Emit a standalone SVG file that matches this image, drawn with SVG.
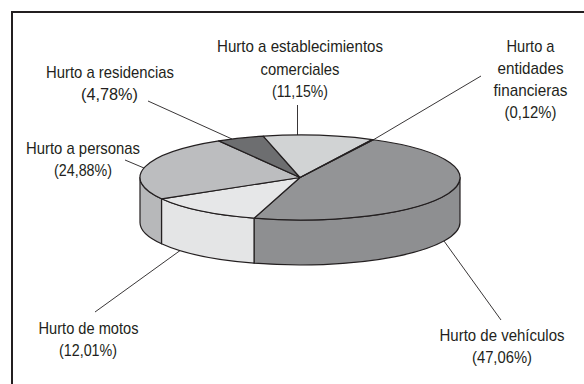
<svg xmlns="http://www.w3.org/2000/svg" width="584" height="384" viewBox="0 0 584 384">
<style>
.t{font-family:"Liberation Sans",Arial,sans-serif;font-size:17px;fill:#231f20;text-anchor:middle}
.s{stroke:#231f20;stroke-width:1.2;stroke-linejoin:round}
.l{stroke:#231f20;stroke-width:0.9;fill:none}
</style>
<rect x="0" y="0" width="584" height="384" fill="#ffffff"/>
<path d="M12 392 V12 H592" fill="none" stroke="#231f20" stroke-width="2"/>
<g id="pie">
  <g id="sides">
    <path class="s" fill="#8e8f91" d="M460 177.5 A160 42.5 0 0 1 254.02 218.21 L254.02 263.21 A160 42.5 0 0 0 460 222.5 Z"/>
    <path class="s" fill="#e4e5e6" d="M254.02 218.21 A160 42.5 0 0 1 161.52 198.79 L161.52 243.79 A160 42.5 0 0 0 254.02 263.21 Z"/>
    <path class="s" fill="#b7b8ba" d="M161.52 198.79 A160 42.5 0 0 1 140 177.5 L140 222.5 A160 42.5 0 0 0 161.52 243.79 Z"/>
  </g>
  <g id="vehiculos">
    <path class="s" fill="#939496" d="M300 177.5 L373.36 139.73 A160 42.5 0 0 1 254.02 218.21 Z"/>
  </g>
  <g id="motos">
    <path class="s" fill="#e6e7e8" d="M300 177.5 L254.02 218.21 A160 42.5 0 0 1 161.52 198.79 Z"/>
  </g>
  <g id="personas">
    <path class="s" fill="#bcbdbf" d="M300 177.5 L161.52 198.79 A160 42.5 0 0 1 218.83 140.87 Z"/>
  </g>
  <g id="residencias">
    <path class="s" fill="#6d6e70" d="M300 177.5 L218.83 140.87 A160 42.5 0 0 1 263.25 136.14 Z"/>
  </g>
  <g id="comerciales">
    <path class="s" fill="#d1d3d4" d="M300 177.5 L263.25 136.14 A160 42.5 0 0 1 372.29 139.58 Z"/>
  </g>
  <g id="entidades">
    <path class="s" fill="#c8c9cb" d="M300 177.5 L372.29 139.58 A160 42.5 0 0 1 373.36 139.73 Z"/>
  </g>
</g>
<g id="connectors">
  <line class="l" x1="148" y1="101" x2="232" y2="139"/>
  <line class="l" x1="297.5" y1="105" x2="297.5" y2="135"/>
  <line class="l" x1="481" y1="76" x2="373" y2="140"/>
  <line class="l" x1="125" y1="160" x2="144" y2="168"/>
  <line class="l" x1="95" y1="312" x2="180" y2="250.6"/>
  <line class="l" x1="444" y1="241" x2="501" y2="320"/>
</g>
<g id="label-comerciales">
  <text class="t" x="300" y="52" textLength="166" lengthAdjust="spacingAndGlyphs">Hurto a establecimientos</text>
  <text class="t" x="300" y="74.5" textLength="79" lengthAdjust="spacingAndGlyphs">comerciales</text>
  <text class="t" x="300" y="97" textLength="56" lengthAdjust="spacingAndGlyphs">(11,15%)</text>
</g>
<g id="label-residencias">
  <text class="t" x="110" y="77.5" textLength="128" lengthAdjust="spacingAndGlyphs">Hurto a residencias</text>
  <text class="t" x="109.5" y="99.5" textLength="57" lengthAdjust="spacingAndGlyphs">(4,78%)</text>
</g>
<g id="label-entidades">
  <text class="t" x="530.5" y="51.5" textLength="48" lengthAdjust="spacingAndGlyphs">Hurto a</text>
  <text class="t" x="530.5" y="73.5" textLength="66" lengthAdjust="spacingAndGlyphs">entidades</text>
  <text class="t" x="530.5" y="95.5" textLength="74" lengthAdjust="spacingAndGlyphs">financieras</text>
  <text class="t" x="530.5" y="117.5" textLength="52" lengthAdjust="spacingAndGlyphs">(0,12%)</text>
</g>
<g id="label-personas">
  <text class="t" x="83" y="153.5" textLength="114" lengthAdjust="spacingAndGlyphs">Hurto a personas</text>
  <text class="t" x="83" y="175.5" textLength="58" lengthAdjust="spacingAndGlyphs">(24,88%)</text>
</g>
<g id="label-motos">
  <text class="t" x="88.5" y="333.5" textLength="100" lengthAdjust="spacingAndGlyphs">Hurto de motos</text>
  <text class="t" x="88" y="355.5" textLength="58" lengthAdjust="spacingAndGlyphs">(12,01%)</text>
</g>
<g id="label-vehiculos">
  <text class="t" x="502" y="340.5" textLength="125" lengthAdjust="spacingAndGlyphs">Hurto de vehículos</text>
  <text class="t" x="502" y="362.5" textLength="60" lengthAdjust="spacingAndGlyphs">(47,06%)</text>
</g>
</svg>
